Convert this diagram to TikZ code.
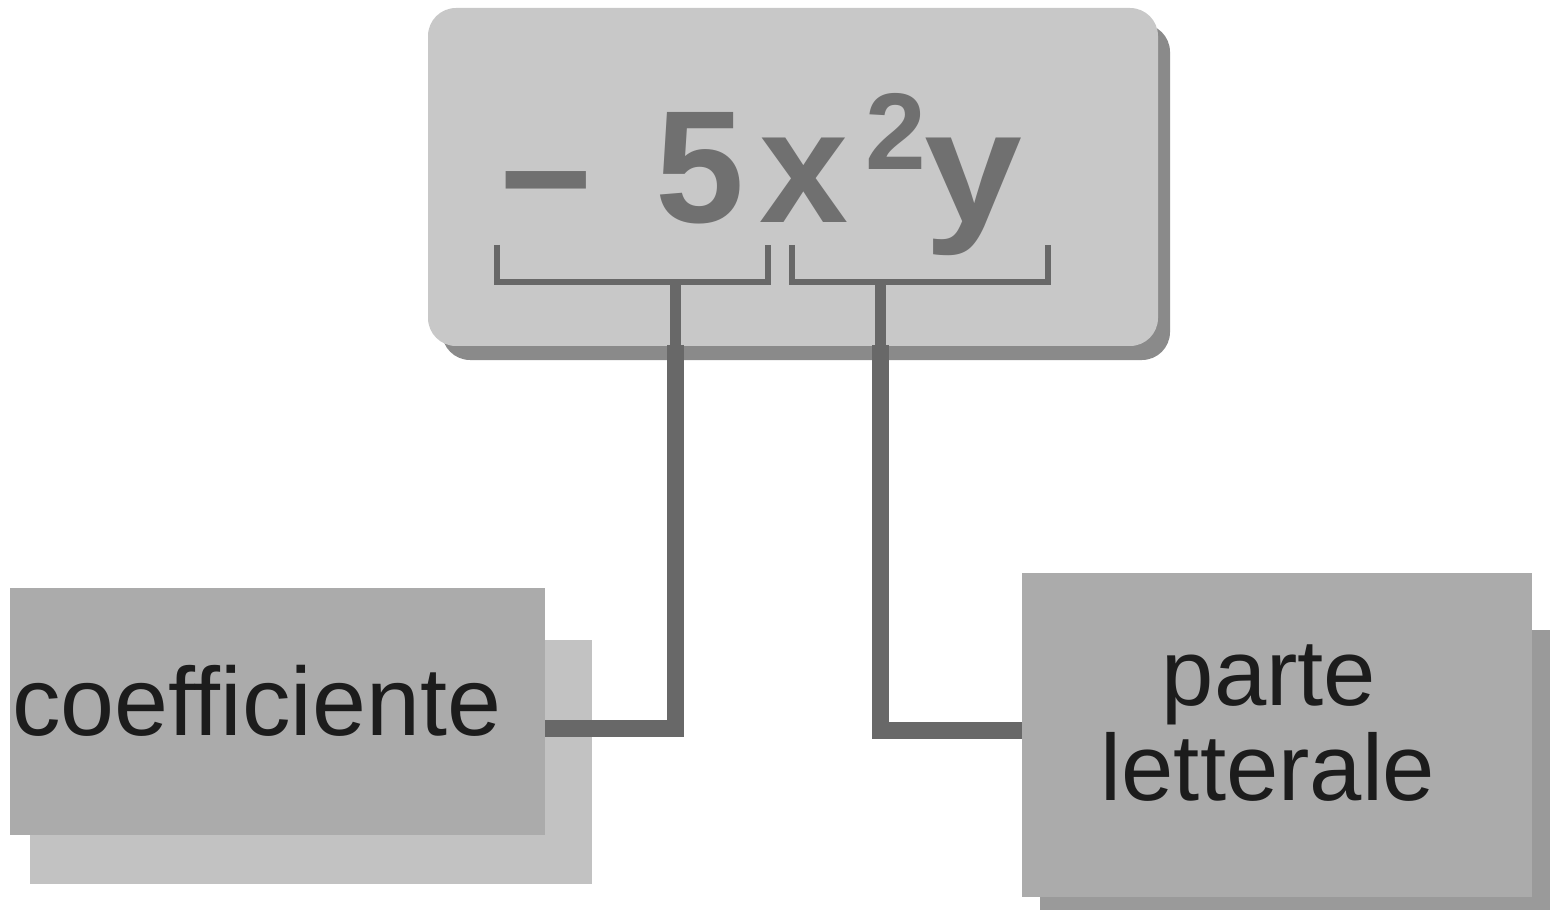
\documentclass[tikz,border=0pt]{standalone}
\usepackage{fontspec}
\setmainfont{Liberation Sans}
\definecolor{topfill}{HTML}{C8C8C8}
\definecolor{topshadow}{HTML}{8A8A8A}
\definecolor{boxfill}{HTML}{ABABAB}
\definecolor{lshadow}{HTML}{C2C2C2}
\definecolor{rshadow}{HTML}{9A9A9A}
\definecolor{montxt}{HTML}{707070}
\definecolor{connc}{HTML}{686868}
\definecolor{lbltxt}{HTML}{1C1C1C}
\tikzset{
  topbox/.style={fill=topfill, draw=none, rounded corners=28pt, inner sep=0pt, outer sep=0pt},
  plainbox/.style={fill=boxfill, draw=none, inner sep=0pt, outer sep=0pt, anchor=north west},
  montext/.style={text=montxt, inner sep=0pt, anchor=base west, font=\fontsize{160}{160}\selectfont\bfseries},
  suptext/.style={text=montxt, inner sep=0pt, anchor=base west, font=\fontsize{109}{109}\selectfont\bfseries},
  lbl/.style={text=lbltxt, inner sep=0pt, font=\fontsize{94}{94}\selectfont},
  brk/.style={draw=connc, line width=6pt, line join=miter},
  conn/.style={draw=connc, line width=17pt, line join=miter}
}
\begin{document}
\begin{tikzpicture}[x=1pt,y=-1pt]
\useasboundingbox (0,0) rectangle (1553,917);
\fill[white] (0,0) rectangle (1553,917);

% top box with shadow
\fill[topshadow, rounded corners=28pt] (442,24) rectangle (1170,360);
\node[topbox, anchor=north west, minimum width=730pt, minimum height=338pt] (mono) at (428,8) {};

% left box with shadow
\fill[lshadow] (30,640) rectangle (592,884);
\node[plainbox, minimum width=535pt, minimum height=247pt] (coef) at (10,588) {};

% right box with shadow
\fill[rshadow] (1040,630) rectangle (1550,910);
\node[plainbox, minimum width=510pt, minimum height=324pt] (lett) at (1022,573) {};

% monomial text
\node[montext] (mminus) at (499,234) {−};
\node[montext] (mfive) at (655,223) {5};
\node[montext] (mx) at (759,223) {x};
\node[suptext] (mtwo) at (865,170) {2};
\node[montext, xscale=1.1] (my) at (924,223) {y};

% brackets
\draw[brk] (497,245) -- (497,282) -- (768,282) -- (768,245);
\draw[brk] (792,245) -- (792,282) -- (1048,282) -- (1048,245);
\coordinate (lstem) at (675,282);
\coordinate (rstem) at (880,282);
\coordinate (lbox) at (675,345);
\coordinate (rbox) at (880,345);
\coordinate (lknee) at (675,728);
\coordinate (rknee) at (880,730);

% connectors
\draw[conn, line width=11pt] (lstem) -- (lbox);
\draw[conn, line width=11pt] (rstem) -- (rbox);
\draw[conn] (lbox) -- (lknee) -- (lknee -| coef.east);
\draw[conn] (rbox) -- (rknee) -- (rknee -| lett.west);

% labels
\node[lbl, anchor=base west, font=\fontsize{97}{97}\selectfont] (coeftxt) at (12,735) {coefficiente};
\node[lbl, anchor=base] (lett1) at (1269,705) {parte};
\node[lbl, anchor=base] (lett2) at (1268,800) {letterale};
\end{tikzpicture}
\end{document}
